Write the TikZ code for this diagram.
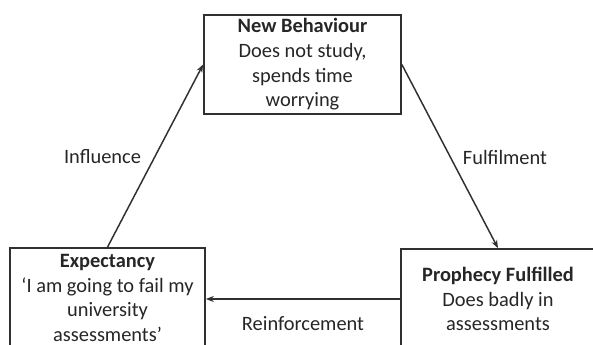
\documentclass[tikz,border=0pt]{standalone}
\usepackage{fontspec}
\setmainfont{Carlito}
\usetikzlibrary{arrows.meta}
\definecolor{ink}{HTML}{262626}
\definecolor{edge}{HTML}{303030}
\begin{document}
\begin{tikzpicture}[x=0.75pt,y=-0.75pt,
  box/.style={draw=edge,line width=1.3pt,rectangle,align=center,text=ink,
    font=\fontsize{15.3}{18.5}\selectfont,inner sep=0pt},
  conn/.style={draw=edge,line width=1.1pt,-{Stealth[length=6pt,width=4.5pt]}},
  lab/.style={text=ink,font=\fontsize{15.3}{18.5}\selectfont,inner sep=0pt}]
\useasboundingbox (0,0) rectangle (593,345);
\clip (0,0) rectangle (593,345);
\fill[white] (0,0) rectangle (593,345);
\node[box,minimum width=147.75pt,minimum height=74.25pt] (nb) at (302.5,64.5)
  {\textbf{New Behaviour}\\Does not study,\\spends time\\worrying};
\node[box,minimum width=146.25pt,minimum height=75pt] (ex) at (107.5,298)
  {\textbf{Expectancy}\\‘I am going to fail my\\university\\assessments’};
\node[box,minimum width=145.5pt,minimum height=75pt] (pf) at (498,299)
  {\textbf{Prophecy Fulfilled}\\Does badly in\\assessments};
\draw[conn] (ex.north) -- (nb.west);
\draw[conn] (nb.east) -- (pf.north);
\draw[conn] (pf.west) -- (pf.west -| ex.east);
\node[lab] (l1) at (102.5,157) {Influence};
\node[lab] (l2) at (505,157) {Fulfilment};
\node[lab] (l3) at (303,324) {Reinforcement};
\end{tikzpicture}
\end{document}
